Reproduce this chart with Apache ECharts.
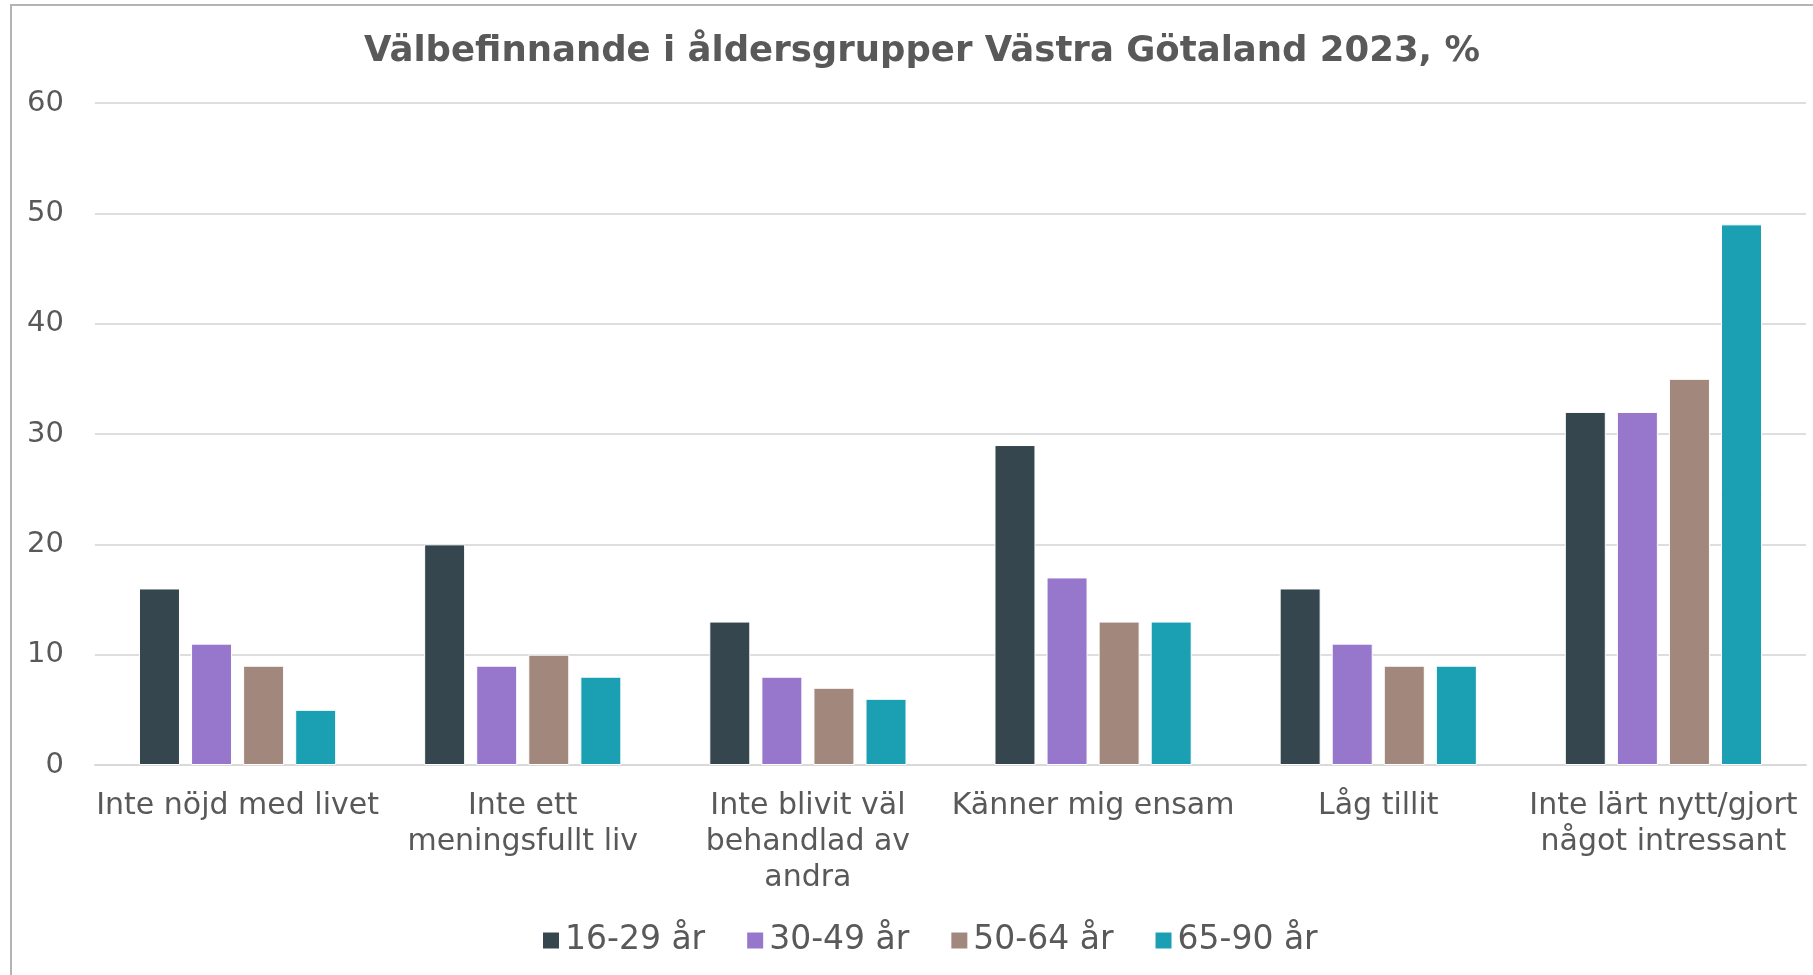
<!DOCTYPE html>
<html>
  <head>
    <meta charset="utf-8" />
    <title>Välbefinnande</title>
    <script src="https://cdn.jsdelivr.net/npm/echarts@6/dist/echarts.min.js"></script>
    <style>
      html, body { margin: 0; padding: 0; background: #fff; }
    </style>
  </head>
  <body>
    <div id="main" style="width: 1813px;height:975px;"></div>
    <script type="text/javascript">
      // data
      var categories = [
        'Inte nöjd med livet',
        'Inte ett\nmeningsfullt liv',
        'Inte blivit väl\nbehandlad av\nandra',
        'Känner mig ensam',
        'Låg tillit',
        'Inte lärt nytt/gjort\nnågot intressant'
      ];
      var groups = ['16-29 år', '30-49 år', '50-64 år', '65-90 år'];
      var age16_29 = [16, 20, 13, 29, 16, 32];
      var age30_49 = [11, 9, 8, 17, 11, 32];
      var age50_64 = [9, 10, 7, 13, 9, 35];
      var age65_90 = [5, 8, 6, 13, 9, 49];
      var yTicks = [0, 10, 20, 30, 40, 50, 60];

      var colors = ['#36464f', '#9777cc', '#a2877c', '#1ba0b3'];
      var values = [age16_29, age30_49, age50_64, age65_90];
      var font = 'DejaVu Sans';
      var textColor = '#595959';

      var myChart = echarts.init(document.getElementById('main'));

      var series = groups.map(function (name, i) {
        return {
          name: name,
          type: 'bar',
          data: values[i],
          barWidth: 41,
          barGap: '27%',
          itemStyle: { color: colors[i], borderColor: '#ffffff', borderWidth: 1 }
        };
      });

      myChart.setOption({
        animation: false,
        color: colors,
        title: {
          text: 'Välbefinnande i åldersgrupper Västra Götaland 2023, %',
          left: 917,
          textAlign: 'center',
          top: 29,
          textStyle: { fontFamily: font, fontSize: 35.5, fontWeight: 'bold', color: textColor }
        },
        legend: {
          data: groups,
          left: 536,
          top: 919,
          itemWidth: 18,
          itemHeight: 18,
          itemGap: 40,
          icon: 'rect',
          textStyle: { fontFamily: font, fontSize: 33, color: textColor }
        },
        grid: { left: 95, right: 7, top: 103, bottom: 210 },
        xAxis: {
          type: 'category',
          data: categories,
          axisTick: { show: false },
          axisLine: { lineStyle: { color: '#d9d9d9', width: 2 } },
          axisLabel: {
            interval: 0,
            margin: 23,
            fontFamily: font,
            fontSize: 30,
            lineHeight: 36,
            color: textColor
          }
        },
        yAxis: {
          type: 'value',
          min: yTicks[0],
          max: yTicks[yTicks.length - 1],
          interval: 10,
          axisLine: { show: false },
          axisTick: { show: false },
          splitLine: { lineStyle: { color: '#dedede', width: 2 } },
          axisLabel: { margin: 31, fontFamily: font, fontSize: 29, color: textColor }
        },
        graphic: [{
          type: 'rect',
          silent: true,
          shape: { x: 11, y: 5, width: 1900, height: 1000 },
          style: { fill: 'none', stroke: '#b4b4b4', lineWidth: 2 }
        }],
        series: series
      });
    </script>
  </body>
</html>
